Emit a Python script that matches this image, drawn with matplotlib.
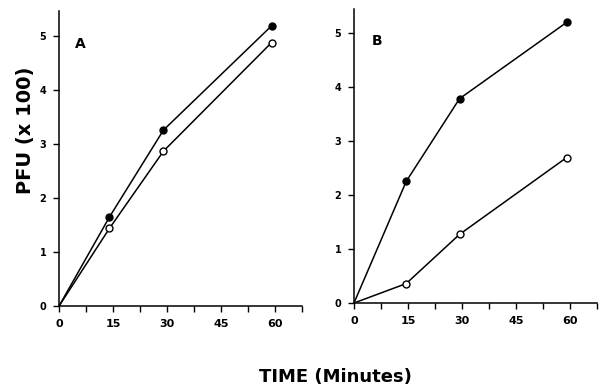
import matplotlib
matplotlib.use("Agg")
import matplotlib.pyplot as plt

# Temps (minutes) et PFU (x 100)
time_a = [0, 14, 29, 59]
filled_a = [0, 1.65, 3.26, 5.19]
open_a = [0, 1.44, 2.87, 4.88]

time_b = [0, 14.5, 29.3, 59]
filled_b = [0, 2.25, 3.78, 5.19]
open_b = [0, 0.36, 1.27, 2.69]

xticks = [0, 15, 30, 45, 60]
yticks = [0, 1, 2, 3, 4, 5]

fig = plt.figure(figsize=(6.02, 3.88), dpi=100)
ax_a = fig.add_axes([0.098, 0.211, 0.404, 0.760])
ax_b = fig.add_axes([0.588, 0.219, 0.404, 0.758])

panels = [(ax_a, time_a, filled_a, open_a, "A", 5.46, 0.065),
          (ax_b, time_b, filled_b, open_b, "B", 5.44, 0.075)]

for ax, t, f, o, lab, ytop, lx in panels:
    ax.plot(t, f, color="black", lw=1.1, marker="o", ms=5,
            mfc="black", mec="black", markevery=[1, 2, 3])
    ax.plot(t, o, color="black", lw=1.1, marker="o", ms=5,
            mfc="white", mec="black", mew=1.0, markevery=[1, 2, 3])
    ax.set_xlim(0, 67.3)
    ax.set_ylim(0, ytop)
    ax.set_xticks(xticks)
    ax.set_xticks([7.5, 22.5, 37.5, 52.5, 67.5], minor=True)
    ax.set_yticks(yticks)
    ax.spines["top"].set_visible(False)
    ax.spines["right"].set_visible(False)
    for s in ("left", "bottom"):
        ax.spines[s].set_linewidth(1.1)
    ax.tick_params(which="both", direction="out", length=4, width=1.0)
    ax.tick_params(axis="y", labelsize=7, pad=5)
    ax.tick_params(axis="x", labelsize=8, pad=5)
    for tl in ax.get_xticklabels() + ax.get_yticklabels():
        tl.set_fontweight("bold")
    ax.text(lx, 0.89, lab, transform=ax.transAxes, fontsize=10,
            fontweight="bold", va="center", ha="left")

fig.text(0.043, 0.665, "PFU (x 100)", rotation=90, fontsize=14,
         fontweight="bold", ha="center", va="center")
fig.text(0.557, 0.028, "TIME (Minutes)", fontsize=13, fontweight="bold",
         ha="center", va="center")

fig.savefig("out.png", dpi=100)
